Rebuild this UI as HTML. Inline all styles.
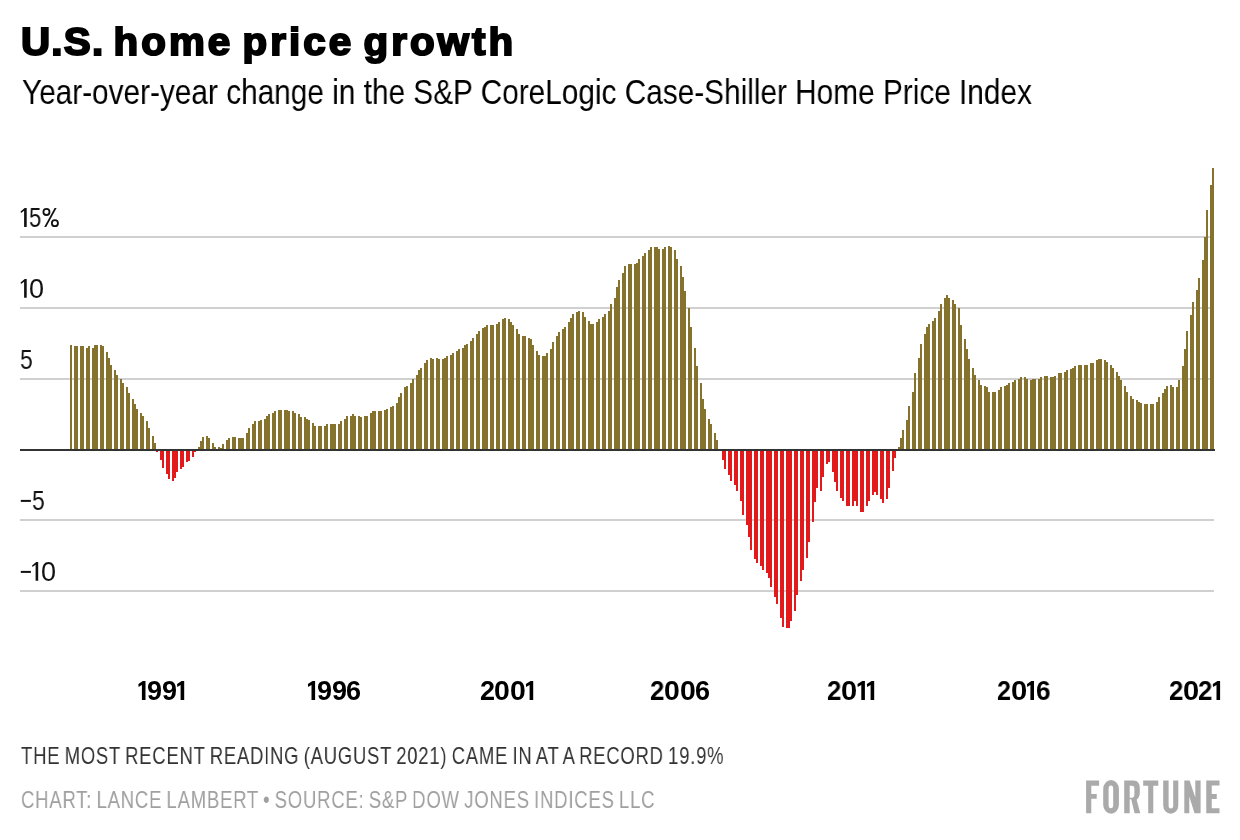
<!DOCTYPE html>
<html><head><meta charset="utf-8"><style>
html,body{margin:0;padding:0;background:#fff;}
body{width:1240px;height:840px;position:relative;overflow:hidden;font-family:"Liberation Sans",sans-serif;}
svg{position:absolute;left:0;top:0;}
</style></head><body>
<svg width="1240" height="840" viewBox="0 0 1240 840" shape-rendering="crispEdges">
<rect x="20" y="236" width="1194" height="2" fill="#d0d0d0"/><rect x="20" y="307" width="1194" height="2" fill="#d0d0d0"/><rect x="20" y="378" width="1194" height="2" fill="#d0d0d0"/><rect x="20" y="519" width="1194" height="2" fill="#d0d0d0"/><rect x="20" y="590" width="1194" height="2" fill="#d0d0d0"/>
<g fill="#85722c"><rect x="70" y="345" width="2" height="105"/><rect x="74" y="346" width="2" height="104"/><rect x="76" y="346" width="2" height="104"/><rect x="80" y="346" width="2" height="104"/><rect x="82" y="346" width="2" height="104"/><rect x="86" y="348" width="2" height="102"/><rect x="88" y="346" width="2" height="104"/><rect x="92" y="348" width="2" height="102"/><rect x="94" y="345" width="2" height="105"/><rect x="96" y="345" width="2" height="105"/><rect x="100" y="345" width="2" height="105"/><rect x="102" y="346" width="2" height="104"/><rect x="106" y="352" width="2" height="98"/><rect x="108" y="358" width="2" height="92"/><rect x="110" y="365" width="2" height="85"/><rect x="114" y="370" width="2" height="80"/><rect x="116" y="375" width="2" height="75"/><rect x="120" y="379" width="2" height="71"/><rect x="122" y="383" width="2" height="67"/><rect x="126" y="387" width="2" height="63"/><rect x="128" y="393" width="2" height="57"/><rect x="132" y="399" width="2" height="51"/><rect x="134" y="404" width="2" height="46"/><rect x="136" y="409" width="2" height="41"/><rect x="140" y="413" width="2" height="37"/><rect x="142" y="416" width="2" height="34"/><rect x="146" y="421" width="2" height="29"/><rect x="148" y="428" width="2" height="22"/><rect x="152" y="436" width="2" height="14"/><rect x="154" y="443" width="2" height="7"/><rect x="198" y="447" width="2" height="3"/><rect x="200" y="441" width="2" height="9"/><rect x="202" y="437" width="2" height="13"/><rect x="206" y="436" width="2" height="14"/><rect x="208" y="438" width="2" height="12"/><rect x="212" y="443" width="2" height="7"/><rect x="214" y="447" width="2" height="3"/><rect x="218" y="447" width="2" height="3"/><rect x="220" y="448" width="2" height="2"/><rect x="222" y="444" width="2" height="6"/><rect x="226" y="440" width="2" height="10"/><rect x="228" y="438" width="2" height="12"/><rect x="232" y="437" width="2" height="13"/><rect x="234" y="437" width="2" height="13"/><rect x="238" y="438" width="2" height="12"/><rect x="240" y="438" width="2" height="12"/><rect x="242" y="438" width="2" height="12"/><rect x="246" y="433" width="2" height="17"/><rect x="248" y="428" width="2" height="22"/><rect x="252" y="424" width="2" height="26"/><rect x="254" y="421" width="2" height="29"/><rect x="258" y="421" width="2" height="29"/><rect x="260" y="420" width="2" height="30"/><rect x="264" y="419" width="2" height="31"/><rect x="266" y="416" width="2" height="34"/><rect x="268" y="414" width="2" height="36"/><rect x="272" y="413" width="2" height="37"/><rect x="274" y="411" width="2" height="39"/><rect x="278" y="410" width="2" height="40"/><rect x="280" y="410" width="2" height="40"/><rect x="284" y="410" width="2" height="40"/><rect x="286" y="410" width="2" height="40"/><rect x="288" y="411" width="2" height="39"/><rect x="292" y="411" width="2" height="39"/><rect x="294" y="413" width="2" height="37"/><rect x="298" y="414" width="2" height="36"/><rect x="300" y="417" width="2" height="33"/><rect x="304" y="417" width="2" height="33"/><rect x="306" y="419" width="2" height="31"/><rect x="308" y="420" width="2" height="30"/><rect x="312" y="423" width="2" height="27"/><rect x="314" y="426" width="2" height="24"/><rect x="318" y="426" width="2" height="24"/><rect x="320" y="426" width="2" height="24"/><rect x="324" y="426" width="2" height="24"/><rect x="326" y="424" width="2" height="26"/><rect x="330" y="424" width="2" height="26"/><rect x="332" y="424" width="2" height="26"/><rect x="334" y="424" width="2" height="26"/><rect x="338" y="424" width="2" height="26"/><rect x="340" y="421" width="2" height="29"/><rect x="344" y="419" width="2" height="31"/><rect x="346" y="416" width="2" height="34"/><rect x="350" y="416" width="2" height="34"/><rect x="352" y="414" width="2" height="36"/><rect x="354" y="416" width="2" height="34"/><rect x="358" y="416" width="2" height="34"/><rect x="360" y="417" width="2" height="33"/><rect x="364" y="416" width="2" height="34"/><rect x="366" y="416" width="2" height="34"/><rect x="370" y="413" width="2" height="37"/><rect x="372" y="411" width="2" height="39"/><rect x="374" y="411" width="2" height="39"/><rect x="378" y="411" width="2" height="39"/><rect x="380" y="411" width="2" height="39"/><rect x="384" y="410" width="2" height="40"/><rect x="386" y="409" width="2" height="41"/><rect x="390" y="407" width="2" height="43"/><rect x="392" y="406" width="2" height="44"/><rect x="396" y="403" width="2" height="47"/><rect x="398" y="397" width="2" height="53"/><rect x="400" y="393" width="2" height="57"/><rect x="404" y="387" width="2" height="63"/><rect x="406" y="386" width="2" height="64"/><rect x="410" y="383" width="2" height="67"/><rect x="412" y="379" width="2" height="71"/><rect x="416" y="375" width="2" height="75"/><rect x="418" y="370" width="2" height="80"/><rect x="420" y="368" width="2" height="82"/><rect x="424" y="363" width="2" height="87"/><rect x="426" y="360" width="2" height="90"/><rect x="430" y="358" width="2" height="92"/><rect x="432" y="359" width="2" height="91"/><rect x="436" y="358" width="2" height="92"/><rect x="438" y="359" width="2" height="91"/><rect x="442" y="359" width="2" height="91"/><rect x="444" y="358" width="2" height="92"/><rect x="446" y="356" width="2" height="94"/><rect x="450" y="355" width="2" height="95"/><rect x="452" y="353" width="2" height="97"/><rect x="456" y="351" width="2" height="99"/><rect x="458" y="349" width="2" height="101"/><rect x="462" y="348" width="2" height="102"/><rect x="464" y="345" width="2" height="105"/><rect x="466" y="344" width="2" height="106"/><rect x="470" y="341" width="2" height="109"/><rect x="472" y="338" width="2" height="112"/><rect x="476" y="334" width="2" height="116"/><rect x="478" y="331" width="2" height="119"/><rect x="482" y="328" width="2" height="122"/><rect x="484" y="327" width="2" height="123"/><rect x="486" y="325" width="2" height="125"/><rect x="490" y="325" width="2" height="125"/><rect x="492" y="325" width="2" height="125"/><rect x="496" y="324" width="2" height="126"/><rect x="498" y="322" width="2" height="128"/><rect x="502" y="319" width="2" height="131"/><rect x="504" y="318" width="2" height="132"/><rect x="508" y="319" width="2" height="131"/><rect x="510" y="322" width="2" height="128"/><rect x="512" y="325" width="2" height="125"/><rect x="516" y="329" width="2" height="121"/><rect x="518" y="334" width="2" height="116"/><rect x="522" y="336" width="2" height="114"/><rect x="524" y="336" width="2" height="114"/><rect x="528" y="338" width="2" height="112"/><rect x="530" y="339" width="2" height="111"/><rect x="532" y="345" width="2" height="105"/><rect x="536" y="351" width="2" height="99"/><rect x="538" y="355" width="2" height="95"/><rect x="542" y="356" width="2" height="94"/><rect x="544" y="356" width="2" height="94"/><rect x="546" y="353" width="2" height="97"/><rect x="550" y="349" width="2" height="101"/><rect x="552" y="342" width="2" height="108"/><rect x="556" y="336" width="2" height="114"/><rect x="558" y="332" width="2" height="118"/><rect x="562" y="329" width="2" height="121"/><rect x="564" y="327" width="2" height="123"/><rect x="568" y="322" width="2" height="128"/><rect x="570" y="318" width="2" height="132"/><rect x="572" y="314" width="2" height="136"/><rect x="576" y="312" width="2" height="138"/><rect x="578" y="311" width="2" height="139"/><rect x="582" y="312" width="2" height="138"/><rect x="584" y="317" width="2" height="133"/><rect x="588" y="321" width="2" height="129"/><rect x="590" y="324" width="2" height="126"/><rect x="592" y="324" width="2" height="126"/><rect x="596" y="322" width="2" height="128"/><rect x="598" y="319" width="2" height="131"/><rect x="602" y="317" width="2" height="133"/><rect x="604" y="314" width="2" height="136"/><rect x="608" y="311" width="2" height="139"/><rect x="610" y="304" width="2" height="146"/><rect x="614" y="298" width="2" height="152"/><rect x="616" y="287" width="2" height="163"/><rect x="618" y="280" width="2" height="170"/><rect x="622" y="273" width="2" height="177"/><rect x="624" y="266" width="2" height="184"/><rect x="628" y="264" width="2" height="186"/><rect x="630" y="264" width="2" height="186"/><rect x="634" y="264" width="2" height="186"/><rect x="636" y="263" width="2" height="187"/><rect x="638" y="259" width="2" height="191"/><rect x="642" y="256" width="2" height="194"/><rect x="644" y="253" width="2" height="197"/><rect x="648" y="250" width="2" height="200"/><rect x="650" y="247" width="2" height="203"/><rect x="654" y="247" width="2" height="203"/><rect x="656" y="247" width="2" height="203"/><rect x="658" y="249" width="2" height="201"/><rect x="662" y="249" width="2" height="201"/><rect x="664" y="247" width="2" height="203"/><rect x="668" y="246" width="2" height="204"/><rect x="670" y="247" width="2" height="203"/><rect x="674" y="250" width="2" height="200"/><rect x="676" y="259" width="2" height="191"/><rect x="680" y="266" width="2" height="184"/><rect x="682" y="277" width="2" height="173"/><rect x="684" y="291" width="2" height="159"/><rect x="688" y="308" width="2" height="142"/><rect x="690" y="327" width="2" height="123"/><rect x="694" y="348" width="2" height="102"/><rect x="696" y="366" width="2" height="84"/><rect x="700" y="383" width="2" height="67"/><rect x="702" y="399" width="2" height="51"/><rect x="704" y="409" width="2" height="41"/><rect x="708" y="419" width="2" height="31"/><rect x="710" y="424" width="2" height="26"/><rect x="714" y="433" width="2" height="17"/><rect x="716" y="440" width="2" height="10"/><rect x="898" y="447" width="2" height="3"/><rect x="900" y="438" width="2" height="12"/><rect x="902" y="430" width="2" height="20"/><rect x="906" y="420" width="2" height="30"/><rect x="908" y="406" width="2" height="44"/><rect x="912" y="392" width="2" height="58"/><rect x="914" y="373" width="2" height="77"/><rect x="918" y="358" width="2" height="92"/><rect x="920" y="344" width="2" height="106"/><rect x="924" y="334" width="2" height="116"/><rect x="926" y="327" width="2" height="123"/><rect x="928" y="324" width="2" height="126"/><rect x="932" y="321" width="2" height="129"/><rect x="934" y="318" width="2" height="132"/><rect x="938" y="311" width="2" height="139"/><rect x="940" y="304" width="2" height="146"/><rect x="944" y="298" width="2" height="152"/><rect x="946" y="295" width="2" height="155"/><rect x="948" y="298" width="2" height="152"/><rect x="952" y="300" width="2" height="150"/><rect x="954" y="304" width="2" height="146"/><rect x="958" y="308" width="2" height="142"/><rect x="960" y="325" width="2" height="125"/><rect x="964" y="339" width="2" height="111"/><rect x="966" y="349" width="2" height="101"/><rect x="968" y="359" width="2" height="91"/><rect x="972" y="368" width="2" height="82"/><rect x="974" y="375" width="2" height="75"/><rect x="978" y="380" width="2" height="70"/><rect x="980" y="385" width="2" height="65"/><rect x="984" y="386" width="2" height="64"/><rect x="986" y="387" width="2" height="63"/><rect x="988" y="392" width="2" height="58"/><rect x="992" y="392" width="2" height="58"/><rect x="994" y="392" width="2" height="58"/><rect x="998" y="390" width="2" height="60"/><rect x="1000" y="387" width="2" height="63"/><rect x="1004" y="386" width="2" height="64"/><rect x="1006" y="385" width="2" height="65"/><rect x="1008" y="383" width="2" height="67"/><rect x="1012" y="382" width="2" height="68"/><rect x="1014" y="380" width="2" height="70"/><rect x="1018" y="379" width="2" height="71"/><rect x="1020" y="377" width="2" height="73"/><rect x="1024" y="377" width="2" height="73"/><rect x="1026" y="379" width="2" height="71"/><rect x="1030" y="380" width="2" height="70"/><rect x="1032" y="379" width="2" height="71"/><rect x="1034" y="379" width="2" height="71"/><rect x="1038" y="379" width="2" height="71"/><rect x="1040" y="377" width="2" height="73"/><rect x="1044" y="376" width="2" height="74"/><rect x="1046" y="376" width="2" height="74"/><rect x="1050" y="377" width="2" height="73"/><rect x="1052" y="377" width="2" height="73"/><rect x="1054" y="376" width="2" height="74"/><rect x="1058" y="373" width="2" height="77"/><rect x="1060" y="373" width="2" height="77"/><rect x="1064" y="372" width="2" height="78"/><rect x="1066" y="370" width="2" height="80"/><rect x="1070" y="369" width="2" height="81"/><rect x="1072" y="368" width="2" height="82"/><rect x="1074" y="366" width="2" height="84"/><rect x="1078" y="365" width="2" height="85"/><rect x="1080" y="365" width="2" height="85"/><rect x="1084" y="365" width="2" height="85"/><rect x="1086" y="365" width="2" height="85"/><rect x="1090" y="363" width="2" height="87"/><rect x="1092" y="363" width="2" height="87"/><rect x="1096" y="360" width="2" height="90"/><rect x="1098" y="359" width="2" height="91"/><rect x="1100" y="359" width="2" height="91"/><rect x="1104" y="360" width="2" height="90"/><rect x="1106" y="362" width="2" height="88"/><rect x="1110" y="365" width="2" height="85"/><rect x="1112" y="368" width="2" height="82"/><rect x="1116" y="372" width="2" height="78"/><rect x="1118" y="376" width="2" height="74"/><rect x="1120" y="380" width="2" height="70"/><rect x="1124" y="386" width="2" height="64"/><rect x="1126" y="392" width="2" height="58"/><rect x="1130" y="396" width="2" height="54"/><rect x="1132" y="399" width="2" height="51"/><rect x="1136" y="400" width="2" height="50"/><rect x="1138" y="402" width="2" height="48"/><rect x="1140" y="403" width="2" height="47"/><rect x="1144" y="404" width="2" height="46"/><rect x="1146" y="404" width="2" height="46"/><rect x="1150" y="404" width="2" height="46"/><rect x="1152" y="404" width="2" height="46"/><rect x="1156" y="402" width="2" height="48"/><rect x="1158" y="397" width="2" height="53"/><rect x="1162" y="393" width="2" height="57"/><rect x="1164" y="389" width="2" height="61"/><rect x="1166" y="386" width="2" height="64"/><rect x="1170" y="385" width="2" height="65"/><rect x="1172" y="387" width="2" height="63"/><rect x="1176" y="387" width="2" height="63"/><rect x="1178" y="380" width="2" height="70"/><rect x="1182" y="366" width="2" height="84"/><rect x="1184" y="349" width="2" height="101"/><rect x="1186" y="331" width="2" height="119"/><rect x="1190" y="315" width="2" height="135"/><rect x="1192" y="302" width="2" height="148"/><rect x="1196" y="290" width="2" height="160"/><rect x="1198" y="278" width="2" height="172"/><rect x="1202" y="260" width="2" height="190"/><rect x="1204" y="237" width="2" height="213"/><rect x="1206" y="210" width="2" height="240"/><rect x="1210" y="185" width="2" height="265"/><rect x="1212" y="168" width="2" height="282"/></g>
<g fill="#e31a1c"><rect x="156" y="450" width="2" height="2"/><rect x="160" y="450" width="2" height="10"/><rect x="162" y="450" width="2" height="18"/><rect x="166" y="450" width="2" height="24"/><rect x="168" y="450" width="2" height="29"/><rect x="172" y="450" width="2" height="31"/><rect x="174" y="450" width="2" height="28"/><rect x="176" y="450" width="2" height="22"/><rect x="180" y="450" width="2" height="19"/><rect x="182" y="450" width="2" height="17"/><rect x="186" y="450" width="2" height="12"/><rect x="188" y="450" width="2" height="11"/><rect x="192" y="450" width="2" height="7"/><rect x="194" y="450" width="2" height="2"/><rect x="722" y="450" width="2" height="10"/><rect x="724" y="450" width="2" height="19"/><rect x="728" y="450" width="2" height="25"/><rect x="730" y="450" width="2" height="31"/><rect x="734" y="450" width="2" height="35"/><rect x="736" y="450" width="2" height="41"/><rect x="740" y="450" width="2" height="51"/><rect x="742" y="450" width="2" height="65"/><rect x="746" y="450" width="2" height="75"/><rect x="748" y="450" width="2" height="87"/><rect x="750" y="450" width="2" height="100"/><rect x="754" y="450" width="2" height="109"/><rect x="756" y="450" width="2" height="113"/><rect x="760" y="450" width="2" height="116"/><rect x="762" y="450" width="2" height="120"/><rect x="766" y="450" width="2" height="123"/><rect x="768" y="450" width="2" height="128"/><rect x="770" y="450" width="2" height="137"/><rect x="774" y="450" width="2" height="147"/><rect x="776" y="450" width="2" height="154"/><rect x="780" y="450" width="2" height="168"/><rect x="782" y="450" width="2" height="177"/><rect x="786" y="450" width="2" height="178"/><rect x="788" y="450" width="2" height="178"/><rect x="790" y="450" width="2" height="171"/><rect x="794" y="450" width="2" height="161"/><rect x="796" y="450" width="2" height="145"/><rect x="800" y="450" width="2" height="131"/><rect x="802" y="450" width="2" height="120"/><rect x="806" y="450" width="2" height="108"/><rect x="808" y="450" width="2" height="92"/><rect x="812" y="450" width="2" height="72"/><rect x="814" y="450" width="2" height="52"/><rect x="816" y="450" width="2" height="38"/><rect x="820" y="450" width="2" height="41"/><rect x="822" y="450" width="2" height="27"/><rect x="826" y="450" width="2" height="14"/><rect x="828" y="450" width="2" height="12"/><rect x="832" y="450" width="2" height="22"/><rect x="834" y="450" width="2" height="32"/><rect x="836" y="450" width="2" height="41"/><rect x="840" y="450" width="2" height="48"/><rect x="842" y="450" width="2" height="51"/><rect x="846" y="450" width="2" height="56"/><rect x="848" y="450" width="2" height="56"/><rect x="852" y="450" width="2" height="56"/><rect x="854" y="450" width="2" height="51"/><rect x="856" y="450" width="2" height="56"/><rect x="860" y="450" width="2" height="62"/><rect x="862" y="450" width="2" height="62"/><rect x="866" y="450" width="2" height="56"/><rect x="868" y="450" width="2" height="51"/><rect x="872" y="450" width="2" height="45"/><rect x="874" y="450" width="2" height="42"/><rect x="876" y="450" width="2" height="45"/><rect x="880" y="450" width="2" height="49"/><rect x="882" y="450" width="2" height="53"/><rect x="886" y="450" width="2" height="49"/><rect x="888" y="450" width="2" height="38"/><rect x="892" y="450" width="2" height="21"/><rect x="894" y="450" width="2" height="8"/></g>
<rect x="20" y="449" width="1195" height="2" fill="#333333"/>
</svg>
<div style="position:absolute;left:21.00px;top:21.86px;font-size:39.5px;font-weight:700;color:#000;line-height:39.5px;white-space:pre;transform:scaleX(1.0212641677061323);transform-origin:0 0;will-change:transform;-webkit-text-stroke:2px #000;letter-spacing:3px;word-spacing:-5px;"><span style="letter-spacing:1.2px">U.S.</span> home price growth</div><div style="position:absolute;left:21.50px;top:74.37px;font-size:35px;font-weight:400;color:#000;line-height:35px;white-space:pre;transform:scaleX(0.851);transform-origin:0 0;will-change:transform;">Year-over-year change in the S&amp;P CoreLogic Case-Shiller Home Price Index</div><div style="position:absolute;left:21.30px;top:743.98px;font-size:24px;font-weight:400;color:#333;line-height:24px;white-space:pre;transform:scaleX(0.7698132997122463);transform-origin:0 0;will-change:transform;letter-spacing:1px;word-spacing:-2px;">THE MOST RECENT READING (AUGUST 2021) CAME IN AT A RECORD 19.9%</div><div style="position:absolute;left:20.50px;top:787.98px;font-size:24px;font-weight:400;color:#a0a0a0;line-height:24px;white-space:pre;transform:scaleX(0.7714906446348799);transform-origin:0 0;will-change:transform;letter-spacing:1px;word-spacing:-2px;">CHART: LANCE LAMBERT • SOURCE: S&amp;P DOW JONES INDICES LLC</div>
<div style="position:absolute;left:29.22px;top:204.74px;font-size:27.0px;font-weight:400;color:#111;line-height:27.0px;transform:scaleX(0.8187);transform-origin:0 0;will-change:transform">5</div><div style="position:absolute;left:29.04px;top:275.54px;font-size:27.0px;font-weight:400;color:#111;line-height:27.0px;transform:scaleX(0.9851);transform-origin:0 0;will-change:transform">0</div><div style="position:absolute;left:20.08px;top:346.54px;font-size:27.0px;font-weight:400;color:#111;line-height:27.0px;transform:scaleX(0.8499);transform-origin:0 0;will-change:transform">5</div><div style="position:absolute;left:31.98px;top:487.54px;font-size:27.0px;font-weight:400;color:#111;line-height:27.0px;transform:scaleX(0.8499);transform-origin:0 0;will-change:transform">5</div><div style="position:absolute;left:40.92px;top:558.54px;font-size:27.0px;font-weight:400;color:#111;line-height:27.0px;transform:scaleX(1.0006);transform-origin:0 0;will-change:transform">0</div><div style="position:absolute;left:147.38px;top:677.84px;font-size:27.0px;font-weight:700;color:#000;line-height:27.0px;transform:scaleX(0.9698);transform-origin:0 0;will-change:transform">9</div><div style="position:absolute;left:161.68px;top:677.84px;font-size:27.0px;font-weight:700;color:#000;line-height:27.0px;transform:scaleX(0.9775);transform-origin:0 0;will-change:transform">9</div><div style="position:absolute;left:317.02px;top:677.84px;font-size:27.0px;font-weight:700;color:#000;line-height:27.0px;transform:scaleX(0.9813);transform-origin:0 0;will-change:transform">9</div><div style="position:absolute;left:331.58px;top:677.84px;font-size:27.0px;font-weight:700;color:#000;line-height:27.0px;transform:scaleX(0.9698);transform-origin:0 0;will-change:transform">9</div><div style="position:absolute;left:346.01px;top:677.84px;font-size:27.0px;font-weight:700;color:#000;line-height:27.0px;transform:scaleX(0.9749);transform-origin:0 0;will-change:transform">6</div><div style="position:absolute;left:480.17px;top:677.84px;font-size:27.0px;font-weight:700;color:#000;line-height:27.0px;transform:scaleX(0.9799);transform-origin:0 0;will-change:transform">2</div><div style="position:absolute;left:494.06px;top:677.84px;font-size:27.0px;font-weight:700;color:#000;line-height:27.0px;transform:scaleX(1.0526);transform-origin:0 0;will-change:transform">0</div><div style="position:absolute;left:509.86px;top:677.84px;font-size:27.0px;font-weight:700;color:#000;line-height:27.0px;transform:scaleX(1.0526);transform-origin:0 0;will-change:transform">0</div><div style="position:absolute;left:649.90px;top:677.84px;font-size:27.0px;font-weight:700;color:#000;line-height:27.0px;transform:scaleX(0.9568);transform-origin:0 0;will-change:transform">2</div><div style="position:absolute;left:663.86px;top:677.84px;font-size:27.0px;font-weight:700;color:#000;line-height:27.0px;transform:scaleX(1.0526);transform-origin:0 0;will-change:transform">0</div><div style="position:absolute;left:679.56px;top:677.84px;font-size:27.0px;font-weight:700;color:#000;line-height:27.0px;transform:scaleX(1.0526);transform-origin:0 0;will-change:transform">0</div><div style="position:absolute;left:695.21px;top:677.84px;font-size:27.0px;font-weight:700;color:#000;line-height:27.0px;transform:scaleX(0.9749);transform-origin:0 0;will-change:transform">6</div><div style="position:absolute;left:827.30px;top:677.84px;font-size:27.0px;font-weight:700;color:#000;line-height:27.0px;transform:scaleX(0.9568);transform-origin:0 0;will-change:transform">2</div><div style="position:absolute;left:840.84px;top:677.84px;font-size:27.0px;font-weight:700;color:#000;line-height:27.0px;transform:scaleX(1.0760);transform-origin:0 0;will-change:transform">0</div><div style="position:absolute;left:997.02px;top:677.84px;font-size:27.0px;font-weight:700;color:#000;line-height:27.0px;transform:scaleX(0.9336);transform-origin:0 0;will-change:transform">2</div><div style="position:absolute;left:1010.53px;top:677.84px;font-size:27.0px;font-weight:700;color:#000;line-height:27.0px;transform:scaleX(1.0838);transform-origin:0 0;will-change:transform">0</div><div style="position:absolute;left:1036.12px;top:677.84px;font-size:27.0px;font-weight:700;color:#000;line-height:27.0px;transform:scaleX(0.9672);transform-origin:0 0;will-change:transform">6</div><div style="position:absolute;left:1169.30px;top:677.84px;font-size:27.0px;font-weight:700;color:#000;line-height:27.0px;transform:scaleX(0.9568);transform-origin:0 0;will-change:transform">2</div><div style="position:absolute;left:1182.84px;top:677.84px;font-size:27.0px;font-weight:700;color:#000;line-height:27.0px;transform:scaleX(1.0760);transform-origin:0 0;will-change:transform">0</div><div style="position:absolute;left:1198.40px;top:677.84px;font-size:27.0px;font-weight:700;color:#000;line-height:27.0px;transform:scaleX(0.9568);transform-origin:0 0;will-change:transform">2</div><svg style="position:absolute;left:0;top:0" width="1240" height="840"><g fill="#111"><polygon points="24.70,208.00 26.70,208.00 26.70,227.00 24.10,227.00 24.10,210.70 21.00,212.90 20.60,211.50"/><circle cx="46.45" cy="211.95" r="3.05" fill="none" stroke="#111" stroke-width="1.8"/><circle cx="54.9" cy="223.15" r="3.05" fill="none" stroke="#111" stroke-width="1.8"/><polygon points="44.2,227 46.2,227 56.6,208 54.6,208"/><polygon points="24.70,279.00 26.70,279.00 26.70,297.80 24.10,297.80 24.10,281.70 21.00,283.90 20.60,282.50"/><rect x="20.8" y="499.9" width="10.1" height="2.0"/><rect x="20.8" y="570.9" width="10.1" height="2.0"/><polygon points="36.20,562.00 38.20,562.00 38.20,580.80 35.60,580.80 35.60,564.70 32.50,566.90 32.10,565.50"/></g><g fill="#000"><polygon points="142.90,681.00 145.50,681.00 145.50,700.00 141.90,700.00 141.90,685.00 138.60,686.90 138.40,684.00"/><polygon points="181.60,681.00 184.20,681.00 184.20,700.00 180.60,700.00 180.60,685.00 177.30,686.90 177.10,684.00"/><polygon points="312.50,681.00 315.10,681.00 315.10,700.00 311.50,700.00 311.50,685.00 308.10,686.90 307.90,684.00"/><polygon points="530.60,681.00 533.20,681.00 533.20,700.00 529.60,700.00 529.60,685.00 526.10,686.90 525.90,684.00"/><polygon points="862.30,681.00 864.90,681.00 864.90,700.00 861.30,700.00 861.30,685.00 857.70,686.90 857.50,684.00"/><polygon points="871.60,681.00 874.20,681.00 874.20,700.00 870.60,700.00 870.60,685.00 867.10,686.90 866.90,684.00"/><polygon points="1031.40,681.00 1034.00,681.00 1034.00,700.00 1030.40,700.00 1030.40,685.00 1027.20,686.90 1027.00,684.00"/><polygon points="1217.50,681.00 1220.10,681.00 1220.10,700.00 1216.50,700.00 1216.50,685.00 1213.00,686.90 1212.80,684.00"/></g></svg>
<svg style="position:absolute;left:0;top:0" width="1240" height="840" viewBox="0 0 1240 840"><g fill="#aaaaaa" fill-rule="evenodd">
<path d="M1086.1,780.5H1099.1V785.7H1091.3V794.1H1096.7V798.7H1091.3V813.3H1086.1Z"/>
<path d="M1103.2,789A7.85,8.9 0 0 1 1118.9,789V804.8A7.85,8.9 0 0 1 1103.2,804.8ZM1108.6,788.5A2.3,3 0 0 1 1113.2,788.5V805.3A2.3,3 0 0 1 1108.6,805.3Z"/>
<path d="M1124.2,780.5H1133.6C1137.4,780.5 1139.8,783.2 1139.8,788V792.5C1139.8,795.8 1138.6,798.3 1136.6,799.8L1140.3,813.3H1134.6L1131.2,799.2H1129.7V813.3H1124.2ZM1129.7,785.8H1132C1133.6,785.8 1134.4,787 1134.4,789V794.3C1134.4,796.5 1133.6,797.7 1132,797.7H1129.7Z"/>
<path d="M1143.2,780.5H1158.3V785.7H1153.3V813.3H1148.2V785.7H1143.2Z"/>
<path d="M1163.2,780.5H1168.6V805.8A2.3,2.7 0 0 0 1173.2,805.8V780.5H1178.3V805.5A7.55,8.2 0 0 1 1163.2,805.5Z"/>
<path d="M1184.3,780.5L1189.6,780.5L1195.3,797.5L1195.3,780.5L1200.6,780.5L1200.6,813.3L1194.5,813.3L1189.3,796.6L1189.3,813.3L1184.3,813.3Z"/>
<path d="M1206.25,780.5H1219.5V785.5H1211.75V794H1216.75V799H1211.75V808.25H1219.5V813.25H1206.25Z"/>
</g></svg>

</body></html>
